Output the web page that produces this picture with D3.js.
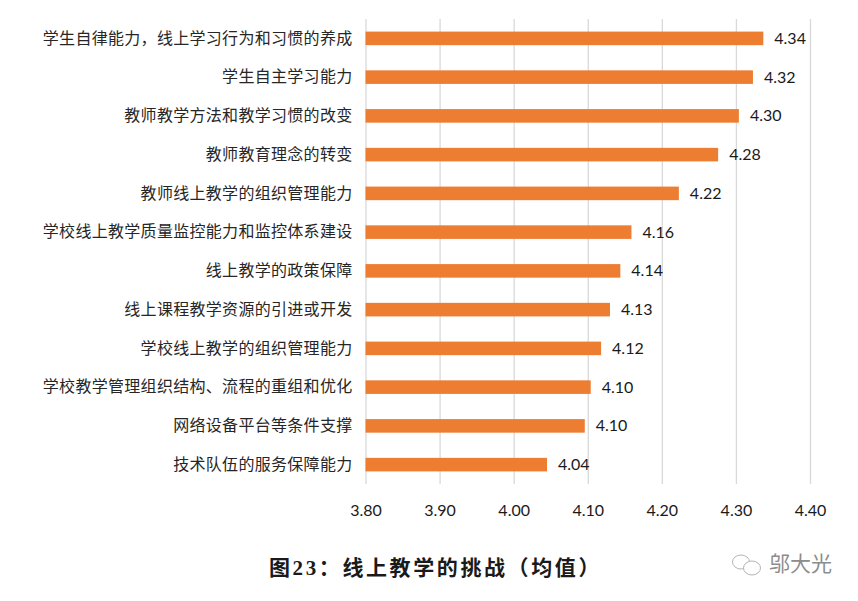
<!DOCTYPE html>
<html>
<head>
<meta charset="utf-8">
<script src="https://cdn.jsdelivr.net/npm/d3@7"></script>
<style>
  html, body { margin: 0; padding: 0; background: #fff; }
  svg { display: block; }
</style>
</head>
<body>
<script>
const categories = [
    '学生自律能力\uFF0C线上学习行为和习惯的养成',
    '学生自主学习能力',
    '教师教学方法和教学习惯的改变',
    '教师教育理念的转变',
    '教师线上教学的组织管理能力',
    '学校线上教学质量监控能力和监控体系建设',
    '线上教学的政策保障',
    '线上课程教学资源的引进或开发',
    '学校线上教学的组织管理能力',
    '学校教学管理组织结构、流程的重组和优化',
    '网络设备平台等条件支撑',
    '技术队伍的服务保障能力'
];
const values = [4.337, 4.323, 4.304, 4.276, 4.223, 4.159, 4.144, 4.130, 4.118, 4.104, 4.096, 4.045];
const tick_values = [3.8, 3.9, 4.0, 4.1, 4.2, 4.3, 4.4];
const title_text = '图23\uFF1A线上教学的挑战\uFF08均值\uFF09';
const watermark_text = '邬大光';

const width = 858;
const height = 601;
const margin = {top: 19, bottom: 117, left: 365.5, right: 48};
const inner_width = width - margin.left - margin.right;
const inner_height = height - margin.top - margin.bottom;
const cjk_font = '"Noto Sans CJK SC", "Noto Sans", sans-serif';
const num_font = 'Lato, "Open Sans", sans-serif';

const svg = d3.select('body')
    .append('svg')
    .attr('width', width)
    .attr('height', height);

const chart = svg.append('g')
    .attr('transform', 'translate(' + margin.left + ',' + margin.top + ')');

const x_scale = d3.scaleLinear()
    .domain([3.8, 4.4])
    .range([0, inner_width]);

const y_scale = d3.scaleBand()
    .domain(categories)
    .range([0, inner_height])
    .paddingInner(0.65)
    .paddingOuter(0.325);

// grid lines come from the ticks of the bottom axis
const x_axis = d3.axisBottom(x_scale)
    .tickValues(tick_values)
    .tickFormat(d3.format('.2f'))
    .tickSize(inner_height)
    .tickPadding(21);

const x_group = chart.append('g').call(x_axis);
x_group.select('.domain').remove();
x_group.selectAll('.tick line')
    .attr('stroke', '#d9d9d9')
    .attr('stroke-width', 1.3);
x_group.selectAll('.tick text')
    .attr('fill', '#1a1a1a')
    .style('font-family', num_font)
    .style('font-size', '16px');

const y_axis = d3.axisLeft(y_scale)
    .tickSize(0)
    .tickPadding(13);

const y_group = chart.append('g').call(y_axis);
y_group.select('.domain').remove();
y_group.selectAll('.tick text')
    .attr('fill', '#262626')
    .style('font-family', cjk_font)
    .style('font-size', '16px')
    .style('letter-spacing', '0.3px');

const rows = categories.map((c, i) => ({category: c, value: values[i]}));

chart.selectAll('.bar')
    .data(rows)
    .enter()
    .append('rect')
    .attr('class', 'bar')
    .attr('x', 0)
    .attr('y', d => y_scale(d.category))
    .attr('width', d => x_scale(d.value))
    .attr('height', y_scale.bandwidth())
    .attr('fill', '#ed7d31');

chart.selectAll('.bar-label')
    .data(rows)
    .enter()
    .append('text')
    .attr('class', 'bar-label')
    .attr('x', d => x_scale(d.value) + 11)
    .attr('y', d => y_scale(d.category) + y_scale.bandwidth() / 2)
    .attr('dy', '0.35em')
    .attr('fill', '#1a1a1a')
    .style('font-family', num_font)
    .style('font-size', '16px')
    .text(d => d3.format('.2f')(d.value));

svg.append('text')
    .attr('x', 269)
    .attr('y', 575)
    .attr('fill', '#1a1a1a')
    .style('font-family', '"Liberation Serif", ' + cjk_font)
    .style('font-size', '21px')
    .style('font-weight', 700)
    .style('letter-spacing', '2.6px')
    .text(title_text);

// watermark, two little chat bubbles and the name
const icon = svg.append('g')
    .attr('fill', '#fff')
    .attr('stroke', '#b5b5b5')
    .attr('stroke-width', 1);
icon.append('ellipse').attr('cx', 741).attr('cy', 562).attr('rx', 8.5).attr('ry', 7);
icon.append('ellipse').attr('cx', 752).attr('cy', 568).attr('rx', 8.5).attr('ry', 7);

svg.append('text')
    .attr('x', 769)
    .attr('y', 571)
    .attr('fill', '#8c8c8c')
    .style('font-family', cjk_font)
    .style('font-size', '21px')
    .text(watermark_text);
</script>
</body>
</html>
